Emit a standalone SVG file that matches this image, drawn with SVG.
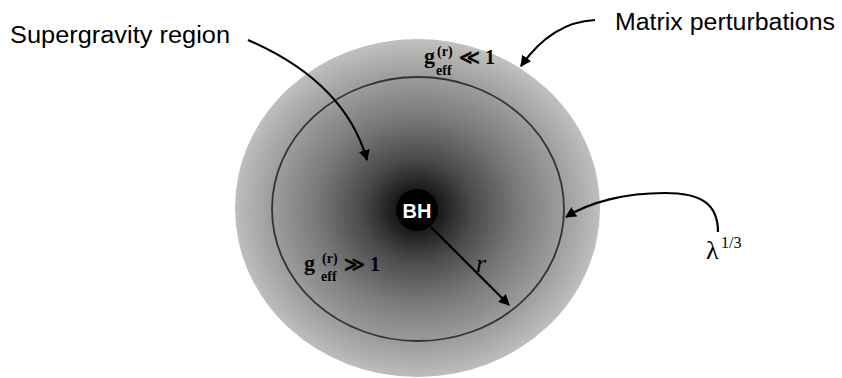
<svg xmlns="http://www.w3.org/2000/svg" width="842" height="378" viewBox="0 0 842 378">
<style>
.lbl{font-family:"Liberation Sans",Arial,sans-serif;font-size:23px;fill:#000}
.m{font-family:"Liberation Serif","Times New Roman",serif;font-weight:bold;fill:#000}
.conn{fill:none;stroke:#000;stroke-width:2.2}
</style>
<defs>
<radialGradient id="g" cx="417" cy="210" r="185" gradientUnits="userSpaceOnUse" gradientTransform="translate(417 210) scale(1 0.92) translate(-417 -210)">
<stop offset="0" stop-color="#000"/>
<stop offset="0.1" stop-color="#151515"/>
<stop offset="0.3" stop-color="#4a4a4a"/>
<stop offset="0.55" stop-color="#7a7a7a"/>
<stop offset="0.8" stop-color="#9f9f9f"/>
<stop offset="1" stop-color="#c0c0c0"/>
</radialGradient>
<marker id="ah" viewBox="0 0 10 10" refX="9" refY="5" markerWidth="5" markerHeight="5" orient="auto" markerUnits="strokeWidth">
<path d="M0,0 L10,5 L0,10 z" fill="#000"/>
</marker>
</defs>
<g id="outer-region">
<ellipse cx="417.5" cy="208" rx="182.5" ry="169" fill="url(#g)"/>
</g>
<g id="boundary">
<ellipse cx="418" cy="209" rx="146" ry="132" fill="none" stroke="#333" stroke-width="1.8"/>
</g>
<g id="bh">
<circle cx="417" cy="210" r="21" fill="#000"/>
<text x="417" y="218" text-anchor="middle" font-family="Liberation Sans,Arial,sans-serif" font-weight="bold" font-size="20" fill="#fff">BH</text>
</g>
<g id="connectors">
<path class="conn" d="M248,40 Q345,82 367,160" marker-end="url(#ah)"/>
<path class="conn" d="M595,20 Q552,22 521,66" marker-end="url(#ah)"/>
<path class="conn" d="M718,232 C718,203 700,193 665,193 C625,193 590,202 566,217" marker-end="url(#ah)"/>
<path class="conn" d="M431,227 L509,305" marker-end="url(#ah)"/>
</g>
<g id="labels">
<text class="lbl" x="10" y="43" textLength="220" lengthAdjust="spacingAndGlyphs">Supergravity region</text>
<text class="lbl" x="615" y="30" textLength="220" lengthAdjust="spacingAndGlyphs">Matrix perturbations</text>
<text x="476" y="272" font-family="Liberation Serif,Times New Roman,serif" font-style="italic" font-size="26">r</text>
<text x="706" y="259" font-family="Liberation Serif,Times New Roman,serif" font-size="26">λ</text>
<text x="721" y="248" font-family="Liberation Serif,Times New Roman,serif" font-size="16">1/3</text>
<g id="g-low">
<text class="m" x="424" y="63" font-size="22">g</text>
<text class="m" x="437" y="56" font-size="14">(r)</text>
<text class="m" x="436" y="75" font-size="14">eff</text>
<text class="m" x="459" y="64" font-size="20">≪ 1</text>
</g>
<g id="g-high">
<text class="m" x="304" y="270" font-size="22">g</text>
<text class="m" x="322" y="263" font-size="14">(r)</text>
<text class="m" x="321" y="281" font-size="14">eff</text>
<text class="m" x="344" y="271" font-size="20">≫ 1</text>
</g>
</g>
</svg>
